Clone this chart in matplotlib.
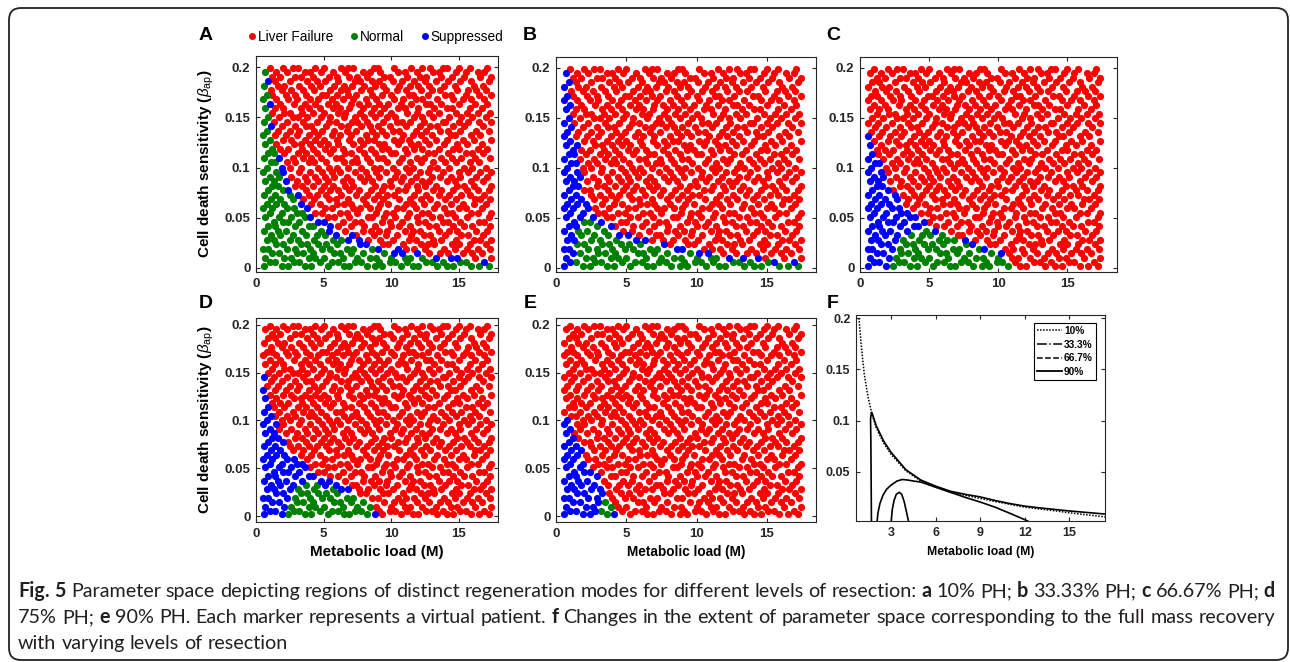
import numpy as np
import matplotlib
matplotlib.use("Agg")
import matplotlib.pyplot as plt
from matplotlib.lines import Line2D
from matplotlib.patches import FancyBboxPatch

W, H = 1290, 662
plt.rcParams['font.family'] = ['Liberation Sans', 'DejaVu Sans']
plt.rcParams['mathtext.fontset'] = 'custom'
plt.rcParams['mathtext.rm'] = 'Liberation Sans'
plt.rcParams['mathtext.it'] = 'Liberation Sans:italic'
plt.rcParams['mathtext.bf'] = 'Liberation Sans:bold'

# virtual patients: cell death sensitivity levels and metabolic loads per level
row_y = [0.002, 0.006, 0.010, 0.015, 0.019, 0.024, 0.028, 0.033, 0.037, 0.042,
         0.046, 0.051, 0.055, 0.060, 0.064, 0.069, 0.073, 0.078, 0.082, 0.087,
         0.091, 0.096, 0.100, 0.105, 0.109, 0.114, 0.118, 0.123, 0.127, 0.132,
         0.136, 0.141, 0.145, 0.150, 0.154, 0.159, 0.163, 0.168, 0.172, 0.177,
         0.181, 0.186, 0.190, 0.195, 0.199]
row_x = [
    [0.6, 1.9, 2.4, 3.6, 4.1, 5.3, 6.5, 6.9, 8.2, 8.8, 9.3, 10.7, 11.6, 12.0, 13.4, 14.1, 14.6, 15.9, 16.5, 17.2],
    [1.0, 1.4, 2.8, 3.2, 4.7, 5.6, 6.1, 7.3, 7.8, 9.1, 9.9, 10.3, 11.2, 12.6, 13.0, 13.8, 15.1, 15.5, 16.9],
    [0.7, 2.1, 2.6, 3.9, 4.4, 5.0, 6.4, 7.5, 8.4, 8.9, 10.0, 11.0, 11.4, 12.3, 13.3, 14.4, 14.9, 16.2, 17.4],
    [1.2, 1.7, 3.0, 3.5, 4.2, 5.8, 6.2, 7.0, 7.9, 9.5, 10.2, 10.8, 11.9, 12.8, 13.6, 14.2, 15.3, 16.0, 16.7],
    [0.55, 0.9, 2.3, 2.9, 4.0, 4.9, 5.5, 6.7, 7.2, 8.6, 9.0, 10.5, 11.1, 11.7, 12.5, 13.9, 14.7, 15.6, 16.4, 17.3],
    [1.5, 2.0, 3.3, 3.8, 4.6, 5.2, 6.0, 7.7, 8.1, 9.4, 9.8, 10.9, 12.2, 12.7, 13.2, 14.5, 15.0, 15.8, 17.0],
    [0.8, 1.3, 2.5, 3.1, 4.3, 5.7, 6.3, 6.8, 7.6, 8.3, 9.2, 10.1, 11.3, 11.8, 13.1, 13.7, 14.8, 16.1, 16.6, 17.4],
    [1.1, 1.8, 2.7, 3.7, 4.5, 5.1, 5.9, 7.1, 7.4, 8.7, 9.6, 10.4, 11.5, 12.4, 12.9, 14.0, 15.2, 15.7, 16.8],
    [0.6, 1.6, 2.2, 3.4, 4.8, 5.4, 6.6, 7.9, 8.5, 9.1, 9.7, 11.0, 11.6, 12.1, 13.5, 14.3, 14.9, 16.3, 17.1],
    [0.9, 1.4, 2.9, 3.9, 4.2, 5.5, 6.1, 7.0, 8.0, 8.8, 10.0, 10.6, 11.4, 12.8, 13.3, 14.6, 15.4, 16.0, 17.3],
    [1.3, 2.0, 2.4, 3.2, 4.6, 5.0, 6.4, 7.3, 7.8, 9.3, 9.9, 10.8, 12.0, 12.5, 13.8, 14.2, 15.1, 16.5, 16.9],
    [0.7, 1.7, 2.6, 3.6, 4.0, 5.3, 5.8, 6.9, 8.3, 8.6, 9.5, 10.3, 11.2, 11.9, 13.0, 13.6, 14.7, 15.6, 17.2],
    [1.0, 1.9, 3.0, 3.4, 4.4, 4.9, 6.2, 6.7, 7.5, 8.9, 9.6, 10.1, 11.3, 12.3, 12.7, 14.1, 14.5, 15.9, 16.4, 17.4],
    [0.55, 1.2, 2.3, 2.8, 3.8, 5.1, 5.6, 7.2, 7.7, 8.4, 9.0, 10.4, 10.9, 11.8, 13.2, 13.9, 15.0, 15.5, 16.7],
    [0.8, 1.5, 2.1, 3.3, 4.1, 4.7, 6.0, 6.5, 7.0, 8.1, 9.2, 9.8, 11.1, 11.6, 12.4, 13.4, 14.4, 15.3, 16.1, 17.0],
    [1.1, 1.8, 2.7, 3.5, 4.3, 5.4, 5.9, 6.8, 7.9, 8.7, 9.4, 10.6, 11.4, 12.2, 12.9, 14.0, 14.8, 16.2, 16.6, 17.3],
    [0.6, 1.4, 2.5, 3.1, 3.9, 4.5, 5.2, 6.3, 7.4, 8.2, 9.0, 9.7, 10.2, 11.7, 12.6, 13.5, 14.3, 15.2, 15.8, 16.9],
    [0.9, 2.0, 2.4, 3.7, 4.8, 5.5, 6.1, 6.9, 7.6, 8.5, 9.3, 10.5, 11.0, 12.0, 13.1, 13.7, 14.6, 15.6, 16.4, 17.2],
    [1.2, 1.6, 2.9, 3.4, 4.2, 5.0, 5.7, 6.6, 7.2, 8.8, 9.5, 10.0, 11.2, 11.9, 12.5, 13.3, 14.9, 15.4, 16.1, 17.4],
    [0.7, 1.3, 2.2, 3.0, 3.8, 4.6, 5.3, 6.4, 7.0, 8.0, 8.6, 9.9, 10.7, 11.5, 12.3, 12.8, 14.1, 14.7, 15.9, 16.8],
    [1.0, 1.7, 2.6, 3.6, 4.4, 5.1, 5.8, 6.7, 7.7, 8.3, 9.1, 10.3, 10.9, 11.8, 13.0, 13.6, 14.4, 15.1, 16.3, 17.1],
    [0.55, 1.5, 2.0, 3.2, 4.0, 4.9, 5.6, 6.2, 7.3, 8.1, 8.9, 9.6, 10.4, 11.3, 12.1, 12.7, 13.8, 15.0, 15.7, 16.6, 17.4],
    [0.8, 1.9, 2.5, 3.3, 4.6, 5.4, 6.0, 6.8, 7.8, 8.7, 9.2, 10.1, 11.1, 11.6, 12.9, 13.4, 14.3, 15.4, 16.0, 17.0],
    [1.1, 1.4, 2.3, 2.9, 3.9, 4.3, 5.2, 6.5, 7.1, 7.5, 8.4, 9.7, 10.6, 11.4, 12.2, 13.1, 14.0, 14.8, 15.8, 16.5],
    [0.6, 1.7, 2.7, 3.5, 4.1, 4.8, 5.9, 6.3, 7.4, 8.2, 9.0, 9.4, 10.8, 11.9, 12.4, 13.7, 14.5, 15.2, 16.2, 17.3],
    [0.9, 1.3, 2.1, 3.1, 3.7, 4.5, 5.5, 6.6, 7.0, 8.0, 8.8, 10.0, 10.3, 11.2, 12.7, 13.2, 14.2, 15.5, 16.0, 16.8],
    [1.2, 1.8, 2.4, 3.4, 4.2, 5.1, 5.7, 6.4, 7.6, 8.5, 9.3, 9.8, 11.0, 11.7, 12.3, 13.5, 14.6, 15.0, 16.4, 17.1],
    [0.7, 1.5, 2.8, 3.3, 4.0, 4.7, 5.3, 6.1, 7.2, 7.9, 9.1, 9.5, 10.5, 11.5, 12.0, 12.8, 13.9, 14.9, 15.6, 16.7],
    [1.0, 2.0, 2.6, 3.6, 4.4, 5.0, 6.0, 6.9, 7.7, 8.3, 8.7, 10.2, 10.7, 11.3, 12.5, 13.3, 14.1, 15.3, 16.1, 17.4],
    [0.55, 1.4, 2.2, 3.0, 3.9, 4.6, 5.6, 6.2, 7.0, 8.1, 8.9, 9.6, 10.9, 11.6, 12.2, 13.0, 14.4, 14.7, 15.9, 16.6],
    [0.8, 1.6, 2.5, 3.2, 4.3, 4.9, 5.8, 6.7, 7.4, 8.6, 9.3, 10.1, 10.6, 11.8, 12.6, 13.6, 14.2, 15.1, 16.3, 17.2],
    [1.1, 1.9, 2.9, 3.7, 4.1, 5.2, 6.3, 6.8, 7.8, 8.4, 9.0, 9.9, 11.1, 12.1, 12.9, 13.4, 14.6, 15.4, 16.8],
    [0.6, 1.3, 2.3, 3.5, 4.5, 5.4, 5.9, 7.1, 7.5, 8.2, 9.4, 10.4, 10.8, 11.4, 12.4, 13.8, 14.0, 15.0, 15.7, 16.5, 17.4],
    [0.9, 1.7, 2.7, 3.1, 3.8, 4.8, 5.5, 6.5, 7.3, 8.0, 8.8, 9.7, 10.3, 11.7, 12.3, 13.1, 14.3, 15.2, 16.0, 17.0],
    [1.2, 2.1, 2.5, 3.4, 4.2, 5.0, 6.1, 6.6, 7.7, 8.5, 9.2, 10.0, 11.2, 11.9, 12.8, 13.5, 14.8, 15.6, 16.4, 17.3],
    [0.7, 1.4, 2.0, 3.3, 3.9, 4.7, 5.7, 6.2, 6.9, 7.9, 8.7, 9.5, 10.5, 11.0, 12.0, 13.2, 14.1, 14.5, 15.8, 16.7],
    [1.0, 1.8, 2.8, 3.6, 4.4, 5.3, 5.9, 7.0, 7.6, 8.3, 9.1, 9.8, 10.7, 11.5, 12.6, 12.9, 13.7, 15.0, 16.2, 17.1],
    [0.55, 1.5, 2.4, 3.0, 4.0, 4.6, 5.6, 6.4, 7.2, 8.1, 8.9, 10.2, 10.9, 11.8, 12.3, 13.4, 14.6, 15.3, 15.9, 16.9],
    [0.8, 1.2, 2.2, 2.9, 3.7, 4.9, 5.2, 6.0, 6.8, 7.4, 8.6, 9.3, 10.0, 11.3, 11.6, 12.7, 14.0, 14.4, 15.5, 16.5, 17.4],
    [1.1, 1.9, 2.6, 3.5, 4.3, 5.5, 6.3, 6.7, 7.8, 8.4, 9.6, 10.4, 11.1, 12.2, 13.0, 13.6, 14.9, 15.7, 16.3, 17.0],
    [0.6, 1.6, 2.1, 3.2, 4.1, 4.7, 5.8, 6.5, 7.1, 8.0, 8.8, 9.4, 10.6, 11.4, 12.0, 12.8, 13.9, 14.7, 16.1, 16.8],
    [0.9, 1.4, 2.5, 3.8, 4.5, 5.1, 6.1, 7.3, 7.7, 8.6, 9.1, 10.1, 10.8, 11.7, 12.5, 13.3, 14.2, 15.1, 15.9, 17.2],
    [1.2, 1.8, 2.9, 3.3, 4.2, 5.4, 6.0, 6.9, 7.5, 8.2, 9.5, 9.9, 11.2, 12.1, 12.6, 13.7, 14.5, 15.4, 16.6, 17.4],
    [0.7, 1.5, 2.3, 3.6, 4.0, 4.8, 5.7, 6.6, 7.9, 8.4, 9.2, 10.5, 11.0, 11.9, 13.1, 13.5, 14.8, 15.5, 16.4, 16.9],
    [1.0, 2.0, 2.7, 3.1, 4.4, 5.0, 6.3, 6.8, 7.2, 8.7, 9.0, 10.2, 11.5, 12.3, 12.9, 13.8, 14.1, 15.0, 15.8, 17.1],
]

# regime boundaries per resection level: upper edge of non-failure region
# and upper edge of the normal-recovery region (metabolic load -> beta_ap)
A_red_x = [0.5, 0.85, 0.95, 1.2, 1.5, 2, 2.5, 3, 4, 5, 6, 7, 8, 10, 12, 14, 16, 18]
A_red_y = [0.3, 0.225, 0.18, 0.14, 0.12, 0.103, 0.088, 0.075, 0.058, 0.047, 0.040, 0.034, 0.028, 0.021, 0.016, 0.013, 0.010, 0.008]
A_green_x = [0.5, 0.85, 0.95, 1.2, 1.5, 2, 2.5, 3, 4, 5, 6, 7, 8, 10, 12, 14, 16, 18]
A_green_y = [0.3, 0.21, 0.16, 0.125, 0.105, 0.089, 0.075, 0.063, 0.048, 0.038, 0.032, 0.027, 0.021, 0.015, 0.011, 0.0085, 0.006, 0.004]

B_red_x = [0.5, 0.8, 1.0, 1.3, 1.6, 1.8, 2.0, 2.5, 3, 4, 5, 6, 8, 10, 12, 14, 16, 18]
B_red_y = [0.25, 0.205, 0.17, 0.14, 0.115, 0.098, 0.075, 0.06, 0.052, 0.042, 0.035, 0.03, 0.023, 0.018, 0.014, 0.011, 0.008, 0.006]
B_green_x = [1.3, 1.5, 2, 2.5, 3, 4, 5, 6, 8, 10, 12, 14, 16, 18]
B_green_y = [-0.01, 0.042, 0.05, 0.047, 0.043, 0.036, 0.03, 0.026, 0.019, 0.014, 0.01, 0.0075, 0.005, 0.0035]

C_red_x = [0.5, 0.7, 1.0, 1.5, 2, 3, 4, 5, 6, 8, 10, 10.8, 11.2]
C_red_y = [0.148, 0.14, 0.125, 0.1, 0.085, 0.065, 0.052, 0.044, 0.038, 0.028, 0.019, 0.014, -0.01]
C_green_x = [2.0, 2.3, 2.6, 3, 4, 5, 6, 7, 8, 9, 10, 10.8, 11.2]
C_green_y = [-0.01, 0.01, 0.022, 0.03, 0.04, 0.038, 0.033, 0.028, 0.023, 0.019, 0.014, 0.008, -0.01]

D_red_x = [0.5, 0.7, 1.0, 1.5, 2, 3, 4, 5, 6, 7, 8, 8.6, 9.0]
D_red_y = [0.15, 0.142, 0.122, 0.098, 0.08, 0.06, 0.048, 0.04, 0.033, 0.027, 0.022, 0.017, -0.01]
D_green_x = [2.2, 2.5, 3, 3.5, 4, 5, 6, 7, 8, 8.4, 8.8]
D_green_y = [-0.01, 0.016, 0.03, 0.037, 0.037, 0.033, 0.027, 0.022, 0.017, 0.012, -0.01]

E_red_x = [0.5, 0.8, 1.2, 1.6, 2, 2.5, 3, 3.5, 3.8, 4.3, 4.5]
E_red_y = [0.11, 0.104, 0.09, 0.076, 0.064, 0.051, 0.041, 0.031, 0.022, 0.01, -0.01]
E_green_x = [2.9, 3.1, 3.5, 3.9, 4.1]
E_green_y = [-0.01, 0.016, 0.025, 0.018, -0.01]

# full mass recovery boundaries for panel F
F10_x = [0.84, 1.0, 1.2, 1.45, 1.72, 2, 2.5, 3, 4, 5, 6, 7, 8, 9, 10, 12, 14, 15, 17.4]
F10_y = [0.2, 0.172, 0.145, 0.123, 0.106, 0.093, 0.078, 0.067, 0.051, 0.041, 0.035, 0.030, 0.027, 0.024, 0.021, 0.0155, 0.012, 0.010, 0.006]
F33_x = [1.68, 1.66, 1.64, 1.62, 1.68, 1.75, 2, 2.5, 3, 4, 5, 6, 7, 8, 9, 10, 11, 12, 13, 15, 17.4]
F33_y = [0.0, 0.04, 0.08, 0.102, 0.108, 0.106, 0.095, 0.080, 0.069, 0.052, 0.042, 0.036, 0.031, 0.028, 0.0255, 0.022, 0.019, 0.0165, 0.0148, 0.0118, 0.0088]
F67_x = [2.05, 2.12, 2.25, 2.45, 2.7, 3.0, 3.4, 3.75, 4.1, 4.5, 5, 6, 7, 8, 9, 10, 11, 12.2]
F67_y = [0.0, 0.010, 0.019, 0.027, 0.033, 0.037, 0.041, 0.0425, 0.042, 0.041, 0.040, 0.035, 0.030, 0.025, 0.0205, 0.0155, 0.0095, 0.002]
F90_x = [3.0, 3.08, 3.2, 3.35, 3.55, 3.72, 3.88, 4.02, 4.2]
F90_y = [0.0, 0.013, 0.022, 0.028, 0.030, 0.028, 0.021, 0.012, 0.0]

legend_labels = ['Liver Failure', 'Normal', 'Suppressed']
mode_colors = ['#ff0000', '#008000', '#0000ff']

px = np.concatenate([np.array(r, dtype=float) for r in row_x])
py = np.concatenate([np.full(len(r), v) for r, v in zip(row_x, row_y)])


def classify(red_x, red_y, green_x, green_y):
    top = np.interp(px, red_x, red_y)
    normal_top = np.interp(px, green_x, green_y, left=-1, right=-1)
    return np.where(py >= top, 0, np.where(py < normal_top, 1, 2))


fig = plt.figure(figsize=(W / 100, H / 100), dpi=100)

frame = fig.add_axes([0, 0, 1, 1])
frame.set_xlim(0, W)
frame.set_ylim(H, 0)
frame.axis('off')
frame.add_patch(FancyBboxPatch((9, 8), 1279, 652, boxstyle='round,pad=0,rounding_size=12',
                               fill=False, lw=1.3, ec='#222222'))


def px_axes(l, t, r, b):
    return fig.add_axes([l / W, 1 - b / H, (r - l) / W, (b - t) / H])


def style(ax, xlim, ylim, xticks, yticks, ylabels, size=9.5):
    ax.set_xlim(*xlim)
    ax.set_ylim(*ylim)
    ax.set_xticks(xticks)
    ax.set_xticklabels([str(t) for t in xticks])
    ax.set_yticks(yticks)
    ax.set_yticklabels(ylabels)
    ax.tick_params(direction='in', length=3, width=0.8, top=True, right=True,
                   labelsize=size, pad=4, colors='#262626')
    for lab in ax.get_xticklabels() + ax.get_yticklabels():
        lab.set_fontweight('bold')
    for s in ax.spines.values():
        s.set_linewidth(0.8)
        s.set_color('#262626')


# name, axes box (px), letter position (px), x range, y range, boundaries
panels = [
    ('A', (256, 56, 498, 272), (206, 35), (0, 17.9), (-0.004, 0.211), A_red_x, A_red_y, A_green_x, A_green_y),
    ('B', (556, 57, 816, 272), (530, 35), (0, 18.5), (-0.004, 0.211), B_red_x, B_red_y, B_green_x, B_green_y),
    ('C', (860, 57, 1117, 272), (833, 35), (0, 18.6), (-0.004, 0.211), C_red_x, C_red_y, C_green_x, C_green_y),
    ('D', (256, 318, 498, 522), (206, 303), (0, 17.9), (-0.006, 0.207), D_red_x, D_red_y, D_green_x, D_green_y),
    ('E', (556, 318, 816, 522), (530, 303), (0, 18.5), (-0.006, 0.207), E_red_x, E_red_y, E_green_x, E_green_y),
]

yt = [0, 0.05, 0.1, 0.15, 0.2]
ytl = ['0', '0.05', '0.1', '0.15', '0.2']
ylab = r'Cell death sensitivity ($\beta_{\mathrm{ap}}$)'
axes = {}
for name, box, pos, xl, yl, rx, ry, gx, gy in panels:
    ax = px_axes(*box)
    cls = classify(rx, ry, gx, gy)
    for k in (0, 1, 2):
        m = cls == k
        ax.scatter(px[m], py[m], s=27, c=mode_colors[k], linewidths=0, zorder=2 + k)
    style(ax, xl, yl, [0, 5, 10, 15], yt, ytl)
    axes[name] = ax
    fig.text(pos[0] / W, 1 - pos[1] / H, name, fontsize=14, fontweight='bold', ha='center', va='center')

for name in ('A', 'D'):
    axes[name].set_ylabel(ylab, fontsize=11, fontweight='bold', labelpad=6)
axes['D'].set_xlabel('Metabolic load (M)', fontsize=11, fontweight='bold', labelpad=4)
axes['E'].set_xlabel('Metabolic load (M)', fontsize=9.8, fontweight='bold', labelpad=4)

# panel F: recovery boundaries
axF = px_axes(856, 315, 1105, 521)
axF.plot(F10_x, F10_y, color='black', lw=1.1, ls=(0, (1, 1)))
axF.plot(F33_x, F33_y, color='black', lw=1.2)
axF.plot(F67_x, F67_y, color='black', lw=1.2)
axF.plot(F90_x, F90_y, color='black', lw=1.2)
style(axF, (0.64, 17.4), (0.002, 0.203), [3, 6, 9, 12, 15], [0.05, 0.1, 0.15, 0.2],
      ['0.05', '0.1', '0.15', '0.2'], size=9)
axF.set_xlabel('Metabolic load (M)', fontsize=8.8, fontweight='bold', labelpad=5)
fig.text(833 / W, 1 - 303 / H, 'F', fontsize=14, fontweight='bold', ha='center', va='center')
f_handles = [Line2D([], [], color='black', lw=1.1, ls=(0, (1, 1))),
             Line2D([], [], color='black', lw=1.1, ls='-.'),
             Line2D([], [], color='black', lw=1.1, ls='--'),
             Line2D([], [], color='black', lw=1.3, ls='-')]
legF = axF.legend(f_handles, ['10%', '33.3%', '66.7%', '90%'], loc='upper right',
                  bbox_to_anchor=(1096 / W, 1 - 323 / H), bbox_transform=fig.transFigure,
                  borderaxespad=0, fancybox=False, edgecolor='black', framealpha=1,
                  handlelength=2.5, handletextpad=0.2, labelspacing=0.35, borderpad=0.3,
                  prop={'size': 7.3, 'weight': 'bold'})
legF.get_frame().set_linewidth(0.8)

# regeneration mode legend
mode_handles = [Line2D([], [], marker='o', ls='', ms=4, mfc=c, mec=c) for c in mode_colors]
fig.legend(mode_handles, legend_labels, loc='center left', bbox_to_anchor=(249 / W, 1 - 37 / H),
           ncol=3, frameon=False, handlelength=0.45, handletextpad=0.2, columnspacing=1.3,
           borderaxespad=0, borderpad=0, fontsize=9.8)

# caption
caption = [
    [('Fig. 5', True), ('Parameter space depicting regions of distinct regeneration modes for different levels of resection:', False),
     ('a', True), ('10% PH;', False), ('b', True), ('33.33% PH;', False), ('c', True), ('66.67% PH;', False), ('d', True)],
    [('75% PH;', False), ('e', True), ('90% PH. Each marker represents a virtual patient.', False), ('f', True),
     ('Changes in the extent of parameter space corresponding to the full mass recovery', False)],
    [('with varying levels of resection', False)],
]
cap_font = 'Lato'
baselines = [597, 623, 649]
x_left, x_right = 18, 1275
renderer = fig.canvas.get_renderer()


def words(line):
    out = []
    for text, bold in line:
        out += [(w, bold) for w in text.split(' ')]
    return out


def measure(s, size, bold):
    t = fig.text(0, 0, s, fontsize=size, fontweight='bold' if bold else 'normal', family=cap_font)
    w = t.get_window_extent(renderer).width
    t.remove()
    return w


base = 12.0
gap0 = measure('x x', base, False) - measure('xx', base, False)
natural = sum(measure(w, base, b) for w, b in words(caption[0])) + gap0 * (len(words(caption[0])) - 1)
cap_size = base * (x_right - x_left) / natural
gap = gap0 * cap_size / base

for i, line in enumerate(caption):
    ws = words(line)
    widths = [measure(w, cap_size, b) for w, b in ws]
    if i < len(caption) - 1 and len(ws) > 1:
        g = (x_right - x_left - sum(widths)) / (len(ws) - 1)
    else:
        g = gap
    x = x_left
    for (w, b), wd in zip(ws, widths):
        fig.text(x / W, 1 - baselines[i] / H, w, fontsize=cap_size, family=cap_font,
                 fontweight='bold' if b else 'normal', va='baseline', color='#231f20')
        x += wd + g

fig.savefig('out.png', dpi=100)
